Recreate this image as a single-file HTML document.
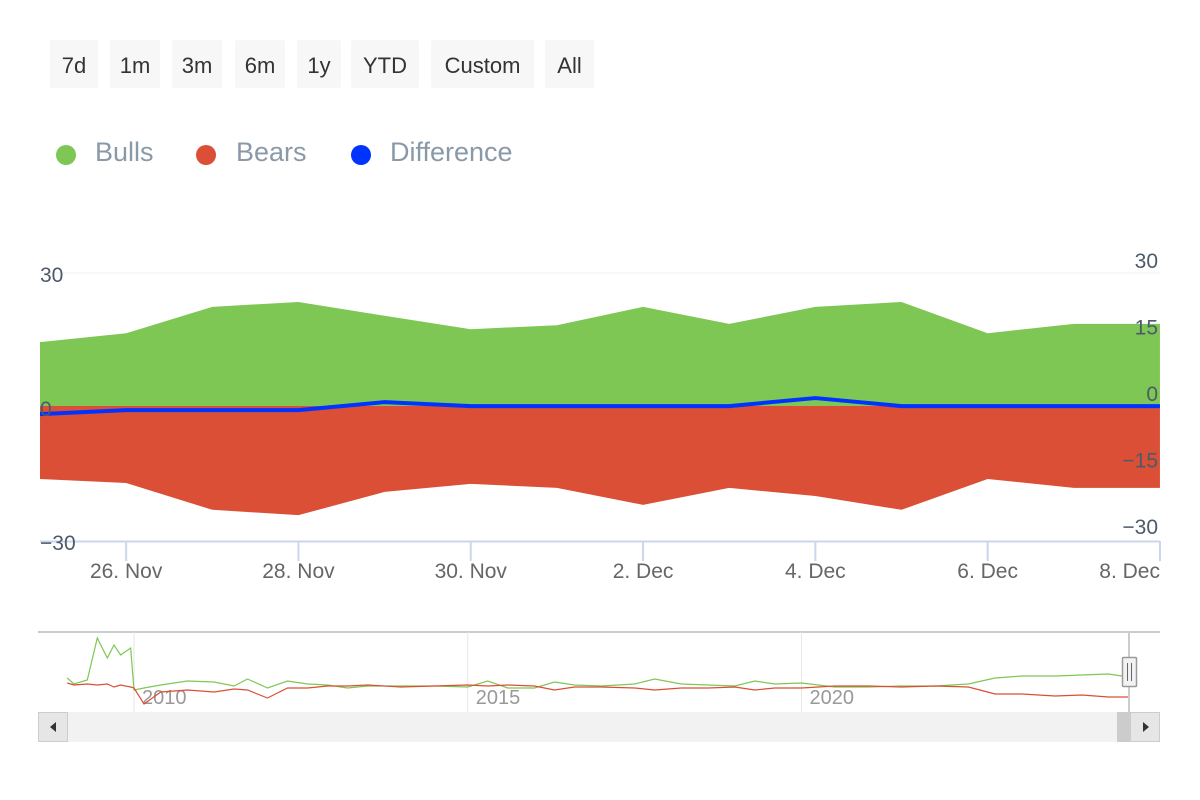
<!DOCTYPE html>
<html><head><meta charset="utf-8"><style>
body{margin:0;width:1200px;height:800px;background:#fff;font-family:"Liberation Sans",sans-serif;overflow:hidden;position:relative}
.btn{position:absolute;top:40px;height:48px;background:#f7f7f7;color:#333;font-size:22px;line-height:52px;text-align:center;border-radius:2px}
.leg{position:absolute;top:137px;font-size:27px;color:#8a99a8}
.dot{position:absolute;top:145px;width:20px;height:20px;border-radius:50%}
</style></head><body>
<div class="btn" style="left:50px;width:48px">7d</div>
<div class="btn" style="left:110px;width:50px">1m</div>
<div class="btn" style="left:172px;width:50px">3m</div>
<div class="btn" style="left:235px;width:50px">6m</div>
<div class="btn" style="left:297px;width:44px">1y</div>
<div class="btn" style="left:351px;width:68px">YTD</div>
<div class="btn" style="left:431px;width:103px">Custom</div>
<div class="btn" style="left:545px;width:49px">All</div>
<div class="dot" style="left:56px;background:#7ec755"></div>
<div class="leg" style="left:95px">Bulls</div>
<div class="dot" style="left:196px;background:#da4f36"></div>
<div class="leg" style="left:236px">Bears</div>
<div class="dot" style="left:351px;background:#0033ff"></div>
<div class="leg" style="left:390px">Difference</div>
<svg id="chart" width="1200" height="800" style="position:absolute;left:0;top:0" font-family="Liberation Sans, sans-serif"></svg>
<script>
const dayLabels=["26. Nov","28. Nov","30. Nov","2. Dec","4. Dec","6. Dec","8. Dec"];
const dayIdx=[0,1,2,3,4,5,6,7,8,9,10,11,12,13];
const bulls=[14.5,16.5,22.4,23.5,20.4,17.4,18.3,22.4,18.6,22.4,23.5,16.5,18.6,18.6];
const bears=[-16.1,-17,-23,-24.2,-19,-17.2,-18.1,-21.9,-18.1,-19.9,-23,-16.1,-18.1,-18.1];
const diff=[-1.6,-0.7,-0.7,-0.7,1.1,0.2,0.2,0.2,0.2,2,0.2,0.2,0.2,0.2];
const leftTicks=[30,0,-30];
const rightTicks=[30,15,0,-15,-30];
const navYears=[2009.0,2009.1,2009.3,2009.45,2009.6,2009.7,2009.8,2009.95,2010.0,2010.15,2010.4,2010.8,2011.2,2011.5,2011.7,2012.0,2012.3,2012.6,2012.9,2013.2,2013.5,2014.0,2014.5,2015.0,2015.3,2015.6,2016.0,2016.3,2016.6,2017.0,2017.5,2017.8,2018.2,2018.6,2019.0,2019.3,2019.6,2020.0,2020.5,2021.0,2021.5,2022.0,2022.5,2022.9,2023.3,2023.8,2024.2,2024.6,2024.9];
const navBulls=[34,28,32,74,54,67,57,64,22,24,27,31,30,26,33,24,31,28,27,24,26,26,26,25,31,24,24,30,27,26,28,33,28,27,26,31,28,29,25,25,26,26,28,34,36,36,37,38,35];
const navBears=[29,27,28,27,28,25,27,25,24,8,20,22,20,23,22,14,24,24,26,26,27,25,26,27,26,27,26,22,25,25,24,22,24,24,25,22,24,24,26,26,25,26,25,18,18,16,17,15,15];
const navTickYears=[2010,2015,2020];

const svg=document.getElementById('chart');const NS='http://www.w3.org/2000/svg';
function mk(t,a,txt){const e=document.createElementNS(NS,t);for(const k in a)e.setAttribute(k,a[k]);if(txt!=null)e.textContent=txt;svg.appendChild(e);return e;}
const x=d=>40+d*86.15;
const y=v=>407-v*4.47;
const yr=v=>393-v*4.43;
const nx=t=>134+(t-2010)*66.75;
const ny=v=>712-v;

let g=mk('line',{x1:40,x2:1160,y1:273,y2:273,stroke:'#f0f0f0','stroke-width':1});


let p='M'+x(0)+','+y(0);dayIdx.forEach((d,i)=>p+='L'+x(d)+','+y(bulls[i]));p+='L'+x(13)+','+y(0)+'Z';
let a=mk('path',{d:p,fill:'#7ec755'});

p='M'+x(0)+','+(y(0)-1);dayIdx.forEach((d,i)=>p+='L'+x(d)+','+y(bears[i]));p+='L'+x(13)+','+(y(0)-1)+'Z';
a=mk('path',{d:p,fill:'#da4f36'});

p='';dayIdx.forEach((d,i)=>p+=(i?'L':'M')+x(d)+','+y(diff[i]));
a=mk('path',{d:p,fill:'none',stroke:'#0033ff','stroke-width':4,'stroke-linejoin':'round'});


a=mk('line',{x1:40,x2:1160,y1:541.5,y2:541.5,stroke:'#ccd6eb','stroke-width':2});

dayLabels.forEach((l,i)=>{const xx=x(1+2*i);
 let t=mk('line',{x1:xx,x2:xx,y1:541,y2:561,stroke:'#ccd6eb','stroke-width':2});
 
 let tx=mk('text',{x:i==6?1160:xx,y:578,'font-size':21,fill:'#666','text-anchor':i==6?'end':'middle'},l);
 });
leftTicks.forEach(v=>{let t=mk('text',{x:40,y:y(v)+9,'font-size':21,fill:'#4d5a6a'},v<0?'−'+(-v):v);
 });
rightTicks.forEach(v=>{let t=mk('text',{x:1158,y:yr(v)+8,'font-size':21,fill:'#4d5a6a','text-anchor':'end'},v<0?'−'+(-v):v);
 });

a=mk('line',{x1:38,x2:1160,y1:632,y2:632,stroke:'#cccccc','stroke-width':2});

navTickYears.forEach(t=>{let l=mk('line',{x1:nx(t),x2:nx(t),y1:632,y2:712,stroke:'#e6e6e6'});
 
 let tx=mk('text',{x:nx(t)+8,y:704,'font-size':20,fill:'#999'},t);
 });
p='';navYears.forEach((t,i)=>p+=(i?'L':'M')+nx(t)+','+ny(navBulls[i]));
a=mk('path',{d:p,fill:'none',stroke:'#7ec755','stroke-width':1.2});

p='';navYears.forEach((t,i)=>p+=(i?'L':'M')+nx(t)+','+ny(navBears[i]));
a=mk('path',{d:p,fill:'none',stroke:'#da4f36','stroke-width':1.2});

a=mk('line',{x1:1129,x2:1129,y1:632,y2:712,stroke:'#cccccc','stroke-width':2});

a=mk('rect',{x:1122.5,y:657.5,width:14,height:29,fill:'#f2f2f2',stroke:'#999','stroke-width':1.5,rx:1});

mk('path',{d:'M1127.5,663V681M1131.5,663V681',stroke:'#666','stroke-width':1});
a=mk('rect',{x:38,y:712,width:1122,height:30,fill:'#f2f2f2'});

a=mk('rect',{x:1117,y:712,width:13,height:30,fill:'#cccccc'});

a=mk('rect',{x:38.5,y:712.5,width:29,height:29,fill:'#e6e6e6',stroke:'#ccc'});

mk('path',{d:'M56,722L50,727L56,732Z',fill:'#333'});
a=mk('rect',{x:1130.5,y:712.5,width:29,height:29,fill:'#e6e6e6',stroke:'#ccc'});

mk('path',{d:'M1143,722L1149,727L1143,732Z',fill:'#333'});
</script>
</body></html>
